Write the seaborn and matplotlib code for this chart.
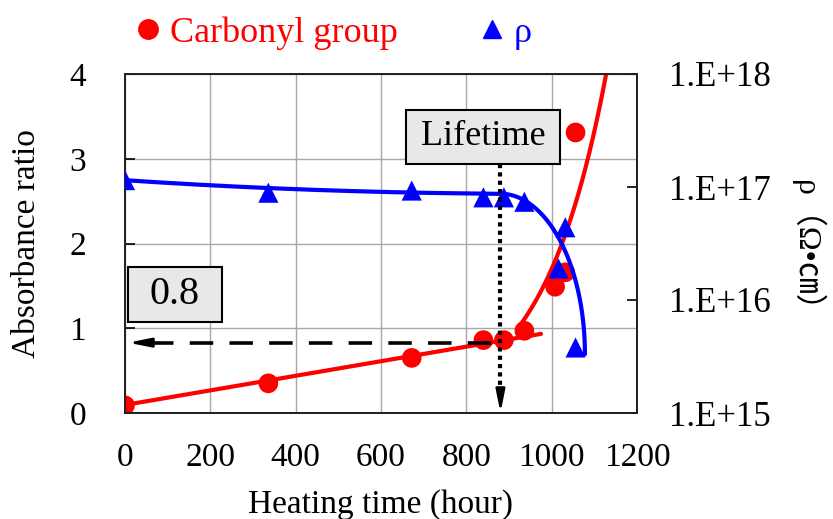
import numpy as np
import pandas as pd
import matplotlib
matplotlib.use("Agg")
import matplotlib.pyplot as plt
from matplotlib.lines import Line2D
from matplotlib.patches import Rectangle
from matplotlib.ticker import FixedLocator, FuncFormatter, NullLocator
import seaborn as sns

# Carbonyl-group absorbance ratio vs heating time
carbonyl_hours = [0, 336, 672, 840, 888, 936, 1008, 1032, 1056]
carbonyl_ratio = [0.09, 0.35, 0.65, 0.86, 0.86, 0.97, 1.49, 1.66, 3.31]

# Volume resistivity rho (ohm*cm) vs heating time
rho_hours = [0, 336, 672, 840, 888, 936, 1016, 1032, 1056]
rho_values = [1.15e17, 8.9e16, 9.3e16, 8.1e16, 8.1e16, 7.4e16, 1.9e16, 4.4e16, 3.8e15]

# Trend-curve coefficients
lin_intercept, lin_slope, lin_end = 0.095, 0.00086, 975          # linear stage
exp_amp, exp_rate, exp_ref, exp_start, exp_end = 1.10, 0.0067, 935, 925, 1140
rho_c0, rho_c1, rho_c2 = 17.06, -0.00025, 1.3e-7                  # log10 rho baseline
rho_knee, rho_stop, rho_final = 880, 1078, 15.52                  # breakdown stage

lifetime_hour = 880
lifetime_ratio = 0.83

x_ticks = [0, 200, 400, 600, 800, 1000, 1200]
y_ticks = [0, 1, 2, 3, 4]
rho_ticks = [1e15, 1e16, 1e17, 1e18]

RED = "#ff0000"
BLUE = "#0000ff"

sns.set_theme(style="white")
plt.rcParams["font.family"] = ["Liberation Serif", "Noto Sans CJK JP"]
plt.rcParams["axes.unicode_minus"] = False
for key in ("text.color", "axes.labelcolor", "xtick.color", "ytick.color"):
    plt.rcParams[key] = "black"

fig = plt.figure(figsize=(8.33, 5.19), dpi=100)
ax = fig.add_axes([125 / 833, 106 / 519, 512 / 833, 339 / 519])
ax2 = ax.twinx()

# ---- trend curves ----
t_lin = np.linspace(0, lin_end, 50)
lin_df = pd.DataFrame({"t": t_lin, "y": lin_intercept + lin_slope * t_lin})
t_exp = np.linspace(exp_start, exp_end, 200)
exp_df = pd.DataFrame({"t": t_exp, "y": exp_amp * np.exp(exp_rate * (t_exp - exp_ref))})

t_rho = np.concatenate([np.linspace(0, rho_knee, 60),
                        rho_knee + (rho_stop - rho_knee) * np.sin(np.linspace(0, np.pi / 2, 300))])
base = rho_c0 + rho_c1 * t_rho + rho_c2 * t_rho ** 2
base_knee = rho_c0 + rho_c1 * rho_knee + rho_c2 * rho_knee ** 2
u = np.clip((t_rho - rho_knee) / (rho_stop - rho_knee), 0, 1)
drop = (base_knee - rho_final) * (1 - np.sqrt(1 - u ** 2))
rho_df = pd.DataFrame({"t": t_rho, "rho": 10 ** (base - drop)})

sns.lineplot(data=lin_df, x="t", y="y", ax=ax, color=RED, lw=3, sort=False)
sns.lineplot(data=exp_df, x="t", y="y", ax=ax, color=RED, lw=3, sort=False)
sns.scatterplot(x=carbonyl_hours, y=carbonyl_ratio, ax=ax, color=RED, marker="o",
                s=200, edgecolor="none", zorder=5)

ax2.set_yscale("log")
sns.lineplot(data=rho_df, x="t", y="rho", ax=ax2, color=BLUE, lw=3, sort=False)
sns.scatterplot(x=rho_hours, y=rho_values, ax=ax2, color=BLUE, marker="^",
                s=210, edgecolor="none", zorder=5)

# ---- axes ----
ax.set_xlim(0, 1200)
ax.set_ylim(0, 4)
ax2.set_ylim(1e15, 1e18)
ax.xaxis.set_major_locator(FixedLocator(x_ticks))
ax.yaxis.set_major_locator(FixedLocator(y_ticks))
ax2.yaxis.set_major_locator(FixedLocator(rho_ticks))
ax2.yaxis.set_minor_locator(NullLocator())
ax2.yaxis.set_major_formatter(FuncFormatter(lambda v, p: f"1.E+{int(round(np.log10(v)))}"))

ax.grid(True, color="#a8a8a8", lw=1.0)
ax2.grid(False)
for a in (ax, ax2):
    for sp in a.spines.values():
        sp.set_color("#222222")
        sp.set_linewidth(1.3)

ax.tick_params(axis="x", direction="in", length=7, width=1.2, labelsize=24, pad=21,
               top=False)
ax.tick_params(axis="y", direction="in", length=7, width=1.2, labelsize=24, pad=28)
ax2.tick_params(axis="y", direction="in", length=7, width=1.2, labelsize=25, pad=23)

ax.set_xlabel("Heating time (hour)", fontsize=24, labelpad=12)
ax.set_ylabel("Absorbance ratio", fontsize=24)
ax.yaxis.set_label_coords(-0.163, 0.5)
ax2.set_ylabel("ρ（Ω•㎝）", fontsize=23, rotation=270)
ax2.yaxis.set_label_coords(1.365, 0.47)

# ---- lifetime annotations ----
dash_start = 59
ax2.plot([dash_start, lifetime_hour], [lifetime_ratio, lifetime_ratio],
         transform=ax.transData, color="black", lw=2.6,
         linestyle=(0, (6.5, 4.5)), zorder=6)
ax2.annotate("", xy=(7, lifetime_ratio), xytext=(dash_start + 2, lifetime_ratio),
             xycoords=ax.transData, textcoords=ax.transData,
             arrowprops=dict(arrowstyle="-|>,head_length=1.1,head_width=0.22",
                             color="black", lw=2.0, shrinkA=0, shrinkB=0), zorder=6)
ax2.plot([lifetime_hour, lifetime_hour], [2.94, 0.25],
         transform=ax.transData, color="black", lw=3, linestyle=(0, (1, 1)), zorder=6)
ax2.annotate("", xy=(lifetime_hour, 0.0), xytext=(lifetime_hour, 0.25),
             xycoords=ax.transData, textcoords=ax.transData,
             arrowprops=dict(arrowstyle="-|>,head_length=1.1,head_width=0.22",
                             color="black", lw=2.0, shrinkA=0, shrinkB=0), zorder=6)

# label boxes
for (x0, x1, y0, y1) in [(659, 1019, 2.94, 3.58), (7, 227, 1.07, 1.72)]:
    ax2.add_patch(Rectangle((x0, y0), x1 - x0, y1 - y0, transform=ax.transData,
                            facecolor="#e8e8e8", edgecolor="black", lw=1.5,
                            zorder=7, clip_on=False))
ax2.text(839, 3.26, "Lifetime", transform=ax.transData, fontsize=26,
         ha="center", va="center", zorder=8)
ax2.text(117, 1.40, "0.8", transform=ax.transData, fontsize=29,
         ha="center", va="center", zorder=8)

# ---- legend ----
handles = [
    Line2D([], [], marker="o", color=RED, linestyle="none", markersize=14),
    Line2D([], [], marker="^", color=BLUE, linestyle="none", markersize=13),
]
leg = fig.legend(handles, ["Carbonyl group", "ρ"], loc="center left",
                 bbox_to_anchor=(134 / 833, 1 - 33 / 519), ncol=2, frameon=False,
                 fontsize=26, handlelength=0.8, handletextpad=0.2,
                 columnspacing=2.2, borderpad=0, borderaxespad=0)
for txt, c in zip(leg.get_texts(), [RED, BLUE]):
    txt.set_color(c)

fig.savefig("out.png", dpi=100)
